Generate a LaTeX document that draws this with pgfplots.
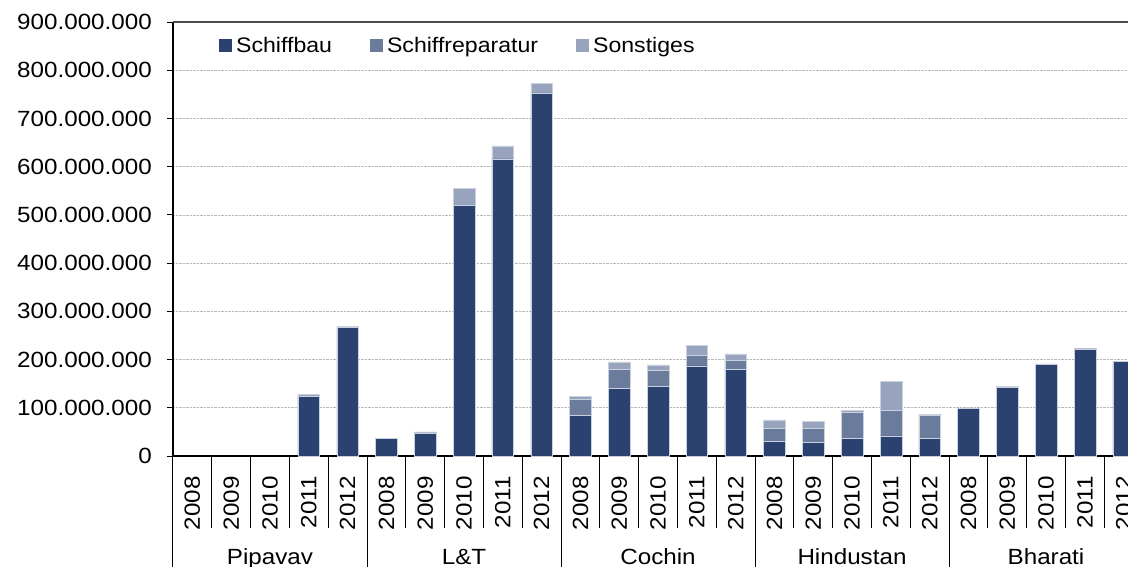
\documentclass[border=0pt]{standalone}
\usepackage{fontspec}
\setmainfont[FakeStretch=1.1]{Liberation Sans}
\usepackage{pgfplots}
\usepackage{pgfplotstable}
\pgfplotsset{compat=1.18}
\definecolor{cbau}{HTML}{2B4270}
\definecolor{crep}{HTML}{6B7B9B}
\definecolor{csons}{HTML}{98A3BE}
\definecolor{cedge}{HTML}{C9D0DE}
\newcommand\lbl{\fontsize{22}{26}\selectfont}
\pgfplotstableread{
x bau rep sons
0 0 0 0
1 0 0 0
2 0 0 0
3 123 0 5
4 266 0 3
5 36 0 1
6 48 0 2
7 520 0 35
8 616 0 27
9 753 0 20
10 84 34 5
11 141 38 16
12 145 33 11
13 187 21 21
14 179 20 13
15 30 27 18
16 28 30 14
17 37 53 5
18 42 52 61
19 37 47 3
20 99 0 1
21 143 0 1
22 190 0 1
23 222 0 1
24 196 0 1
}\data
\begin{document}
\begin{tikzpicture}
\begin{axis}[
  scale only axis, width=955pt, height=434pt,
  xmin=-0.5, xmax=24.11, ymin=0, ymax=900,
  ybar stacked, bar width=0.56,
  axis x line*=bottom, axis y line*=left,
  axis line style={black, line width=1.1pt},
  ytick={0,100,...,900},
  yticklabels={0,100.000.000,200.000.000,300.000.000,400.000.000,500.000.000,600.000.000,700.000.000,800.000.000,900.000.000},
  xtick={0,...,24},
  xticklabels={2008,2009,2010,2011,2012,2008,2009,2010,2011,2012,2008,2009,2010,2011,2012,2008,2009,2010,2011,2012,2008,2009,2010,2011,2012},
  xtick style={draw=none},
  ytick style={black, line width=1pt},
  tick align=outside, major tick length=6pt,
  ymajorgrids, grid style={densely dotted, gray!55, line width=0.6pt},
  ticklabel style={font=\lbl},
  yticklabel style={inner sep=0pt, anchor=east, xshift=-15pt},
  xticklabel style={rotate=90, anchor=east, inner sep=0pt, yshift=0pt},
  xticklabel shift=14pt,
  legend style={draw=none, fill=none, at={(0.045,0.975)}, anchor=north west,
    font=\fontsize{21}{25}\selectfont,
    nodes={inner xsep=4pt},
    /tikz/every even column/.append style={column sep=34pt}},
  legend columns=3, legend cell align=left,
  legend image code/.code={\draw[#1,draw=none] (0pt,-6.5pt) rectangle (13pt,6.5pt);},
]
\addplot[fill=cbau, draw=cedge, line width=0.5pt] table[x=x,y=bau]{\data};
\addplot[fill=crep, draw=cedge, line width=0.5pt] table[x=x,y=rep]{\data};
\addplot[fill=csons, draw=cedge, line width=0.5pt] table[x=x,y=sons]{\data};
\legend{Schiffbau,Schiffreparatur,Sonstiges}
\end{axis}
\draw[gray!60!black, line width=1.4pt] (0pt,434pt) -- (955pt,434pt);
\foreach \k in {1,2,3,4,6,7,8,9,11,12,13,14,16,17,18,19,21,22,23,24}
  \draw[black, line width=1pt] ({38.8*\k*1pt},0pt) -- ++(0pt,-72pt);
\foreach \k in {0,5,10,15,20}
  \draw[black, line width=1pt] ({38.8*\k*1pt},0pt) -- ++(0pt,-115pt);
\foreach \k/\n in {0/Pipavav,1/L\&T,2/Cochin,3/Hindustan,4/Bharati}
  \node[anchor=base, inner sep=0pt, font=\lbl] at ({38.8*(5*\k+2.5)*1pt},-108pt) {\n};
\pgfresetboundingbox
\path[use as bounding box] (-173pt,-110pt) rectangle (955pt,456pt);
\end{tikzpicture}
\end{document}
